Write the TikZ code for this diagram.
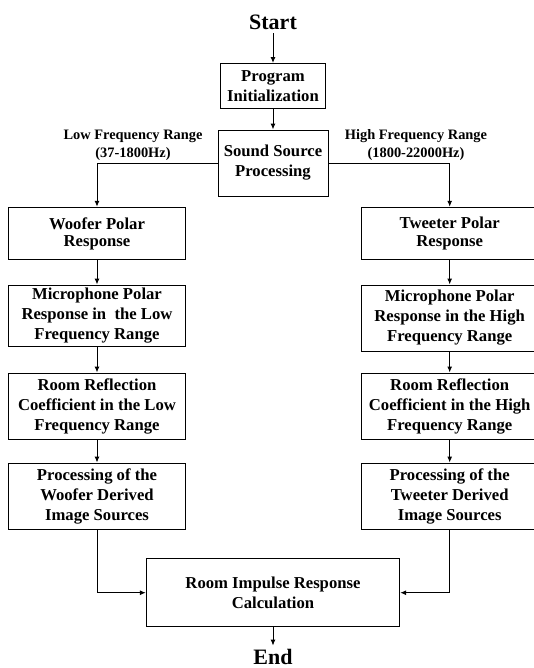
\documentclass[tikz,border=0pt]{standalone}
\usepackage{fontspec}
\setmainfont{Liberation Serif}
\usetikzlibrary{arrows.meta}
\begin{document}
\begin{tikzpicture}[x=0.75pt,y=-0.75pt,
  box/.style={draw, line width=0.75pt, align=center, inner sep=1pt,
              font=\bfseries\fontsize{12.5}{15}\selectfont},
  tight/.style={font=\bfseries\fontsize{12.5}{13}\selectfont},
  colbox/.style={box, minimum width=132.75pt},
  arr/.style={line width=0.75pt, -{Latex[length=4.5pt,width=3.75pt]}},
  lbl/.style={align=center, inner sep=0pt, font=\bfseries\fontsize{10.8}{13.5}\selectfont},
  term/.style={font=\bfseries\fontsize{16.5}{20}\selectfont, inner sep=2.5pt}]
\clip (0,0) rectangle (534,668);
\fill[white] (0,0) rectangle (534,668);

\node[term, anchor=base] (start) at (273,29.3) {Start};
\node[box, minimum width=78.5pt, minimum height=33.75pt] (prog) at (273,86) {Program\\Initialization};
\node[box, minimum width=82.5pt, minimum height=49.5pt] (sound) at (273,163) {Sound Source\\Processing};
\node[lbl] (low) at (133,145) {Low Frequency Range\\(37-1800Hz)};
\node[lbl] (high) at (416,145) {High Frequency Range\\(1800-22000Hz)};

\node[colbox, tight, minimum height=39.5pt] (woofer) at (97,233.6) {Woofer Polar\\Response};
\node[colbox, tight, minimum height=39.5pt] (tweeter) at (449.7,233.6) {Tweeter Polar\\Response};

\node[colbox, minimum height=45.75pt] (micL) at (97,315.5) {Microphone Polar\\Response in\ \ the Low\\Frequency Range};
\node[colbox, minimum height=49.5pt] (micR) at (449.7,318) {Microphone Polar\\Response in the High\\Frequency Range};

\node[colbox, minimum height=49.5pt] (roomL) at (97,406) {Room Reflection\\Coefficient in the Low\\Frequency Range};
\node[colbox, minimum height=49.5pt] (roomR) at (449.7,406) {Room Reflection\\Coefficient in the High\\Frequency Range};

\node[colbox, minimum height=49.9pt] (procL) at (97,496.3) {Processing of the\\Woofer Derived\\Image Sources};
\node[colbox, minimum height=49.9pt] (procR) at (449.7,496.3) {Processing of the\\Tweeter Derived\\Image Sources};

\node[box, minimum width=190pt, minimum height=50.6pt] (rir) at (273,592.7) {Room Impulse Response\\Calculation};
\node[term, anchor=base] (end) at (273,664.5) {End};

\draw[arr] (start) -- (prog);
\draw[arr] (prog) -- (sound);
\draw[arr] (sound.west) -| (woofer.north);
\draw[arr] (sound.east) -| (tweeter.north);
\draw[arr] (woofer) -- (micL);
\draw[arr] (micL) -- (roomL);
\draw[arr] (roomL) -- (procL);
\draw[arr] (tweeter) -- (micR);
\draw[arr] (micR) -- (roomR);
\draw[arr] (roomR) -- (procR);
\draw[arr] (procL.south) |- (rir.west);
\draw[arr] (procR.south) |- (rir.east);
\draw[arr] (rir) -- (end);
\end{tikzpicture}
\end{document}
